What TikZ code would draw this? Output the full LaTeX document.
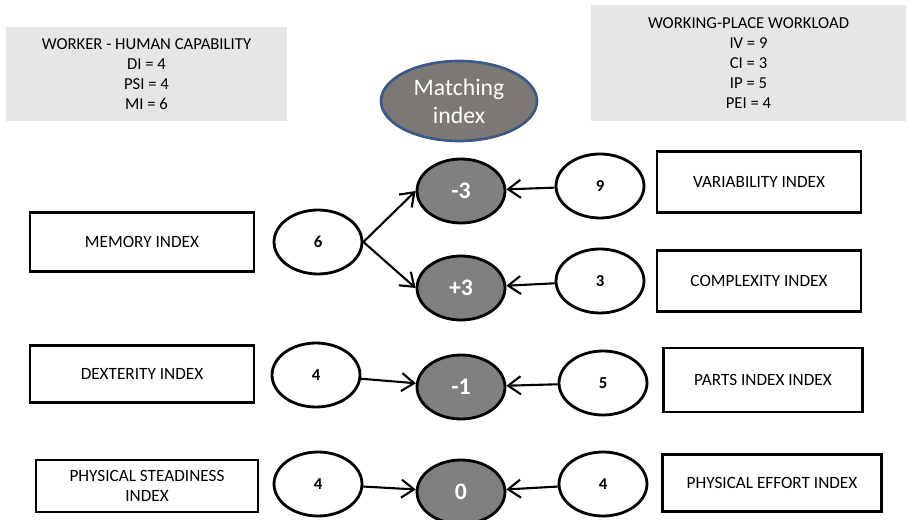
\documentclass[tikz,border=0pt]{standalone}
\usepackage{fontspec}
\setmainfont{Carlito}
\usetikzlibrary{shapes.geometric,arrows.meta}
\definecolor{panelgray}{RGB}{230,230,230}
\definecolor{resgray}{RGB}{128,128,128}
\definecolor{matchgray}{RGB}{124,120,116}
\definecolor{matchblue}{RGB}{58,88,138}
\begin{document}
\begin{tikzpicture}[x=0.02cm, y=-0.02cm,
    panel/.style={fill=panelgray, draw=none, align=center, font=\fontsize{9.5}{11.4}\selectfont},
    idxbox/.style={rectangle, draw=black, line width=1.4pt, align=center, font=\fontsize{9.8}{11.5}\selectfont},
    valnode/.style={ellipse, draw=black, line width=1.6pt, fill=white, minimum width=1.76cm, minimum height=1.28cm, inner sep=0pt, font=\fontsize{9.5}{11}\selectfont\bfseries},
    resnode/.style={ellipse, draw=black, line width=1.6pt, fill=resgray, text=white, minimum width=1.76cm, minimum height=1.28cm, inner sep=0pt, font=\fontsize{13.5}{15}\selectfont\bfseries},
    link/.style={line width=1.2pt, -{Straight Barb[length=2.5mm, width=3.6mm, line width=1.2pt]}}]
    \useasboundingbox (0,0) rectangle (912,520);

    % summary panels
    \node[panel, minimum width=5.62cm, minimum height=1.88cm] (worker) at (146.5,74) {WORKER - HUMAN CAPABILITY\\DI = 4\\PSI = 4\\MI = 6};
    \node[panel, minimum width=6.3cm, minimum height=2.32cm] (workload) at (748.5,63) {WORKING-PLACE WORKLOAD\\IV = 9\\CI = 3\\IP = 5\\PEI = 4};
    \node[ellipse, draw=matchblue, line width=1.5pt, fill=matchgray, text=white, minimum width=3.12cm, minimum height=1.6cm, align=center, font=\fontsize{13.5}{16}\selectfont] (match) at (459,101) {Matching\\index};

    % worker side
    \node[idxbox, minimum width=4.48cm, minimum height=1.18cm] (mem) at (142,242) {MEMORY INDEX};
    \node[idxbox, minimum width=4.48cm, minimum height=1.14cm] (dex) at (142,374) {DEXTERITY INDEX};
    \node[idxbox, minimum width=4.44cm, minimum height=1.04cm] (phs) at (147,486) {PHYSICAL STEADINESS\\INDEX};
    \node[valnode] (m6) at (318,242) {6};
    \node[valnode] (d4) at (316,375) {4};
    \node[valnode] (s4) at (318,484) {4};

    % matching results
    \node[resnode] (r1) at (461,191) {-3};
    \node[resnode] (r2) at (461,288) {+3};
    \node[resnode] (r3) at (461,387) {-1};
    \node[resnode] (r4) at (461,492) {0};

    % workplace side
    \node[valnode] (v9) at (600,186) {9};
    \node[valnode] (c3) at (600,281) {3};
    \node[valnode] (p5) at (603,383) {5};
    \node[valnode] (e4) at (603,484) {4};
    \node[idxbox, minimum width=4.08cm, minimum height=1.22cm] (var) at (759,182) {VARIABILITY INDEX};
    \node[idxbox, minimum width=4.08cm, minimum height=1.22cm] (cpx) at (759,281) {COMPLEXITY INDEX};
    \node[idxbox, minimum width=3.98cm, minimum height=1.28cm] (par) at (763,380) {PARTS INDEX INDEX};
    \node[idxbox, minimum width=4.38cm, minimum height=1.14cm] (pef) at (772,483) {PHYSICAL EFFORT INDEX};

    \draw[link] (m6.east) -- (r1.west);
    \draw[link] (m6.east) -- (r2.west);
    \draw[link] (d4) -- (r3);
    \draw[link] (s4) -- (r4);
    \draw[link] (v9) -- (r1);
    \draw[link] (c3) -- (r2);
    \draw[link] (p5) -- (r3);
    \draw[link] (e4) -- (r4);
\end{tikzpicture}
\end{document}
